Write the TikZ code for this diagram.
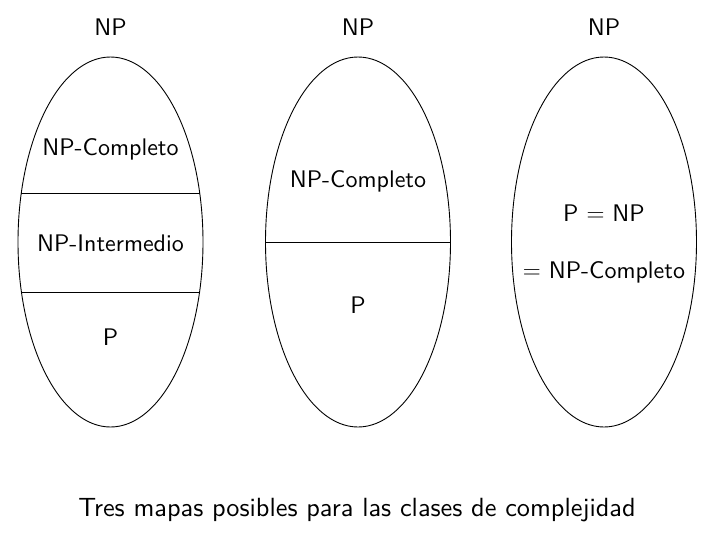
\documentclass[tikz,border=0pt]{standalone}
\usepackage{fontspec}
\newfontfamily\labfont{lmsans10-regular}[Extension=.otf]
\usetikzlibrary{shapes.geometric}
\tikzset{
  set/.style={draw=black, line width=0.9pt, ellipse, inner sep=0pt, minimum width=185pt, minimum height=370pt},
  lbl/.style={font=\labfont\fontsize{24}{28}\selectfont, inner sep=0pt, anchor=center},
  caplbl/.style={font=\labfont\fontsize{26.3}{31}\selectfont, inner sep=0pt, anchor=center},
  sep/.style={draw=black, line width=0.9pt}
}
\begin{document}
\begin{tikzpicture}[x=1pt,y=-1pt]
\useasboundingbox (0,0) rectangle (713,546);
% ellipses
\node[set] (e1) at (110.5,242) {};
\node[set] (e2) at (358,242) {};
\node[set] (e3) at (604,242) {};
% separators
\begin{scope}
\clip (110.5,242) ellipse [x radius=92.5, y radius=185];
\draw[sep] (0,193.3) -- (250,193.3);
\draw[sep] (0,292.3) -- (250,292.3);
\end{scope}
\begin{scope}
\clip (358,242) ellipse [x radius=92.5, y radius=185];
\draw[sep] (250,242.5) -- (480,242.5);
\end{scope}
% labels
\node[lbl] (np1) at (110.5,27) {NP};
\node[lbl] (np2) at (358,27) {NP};
\node[lbl] (np3) at (604,27) {NP};
\node[lbl] (c1) at (110.5,149) {NP-Completo};
\node[lbl] (i1) at (110.5,243) {NP-Intermedio};
\node[lbl] (p1) at (110.5,337) {P};
\node[lbl] (c2) at (358,181) {NP-Completo};
\node[lbl] (p2) at (358,305) {P};
\node[lbl] (pn3) at (604,213) {P $=$ NP};
\node[lbl] (c3) at (604,272) {$=$ NP-Completo};
\node[caplbl] (cap) at (357,510) {Tres mapas posibles para las clases de complejidad};
\end{tikzpicture}
\end{document}
